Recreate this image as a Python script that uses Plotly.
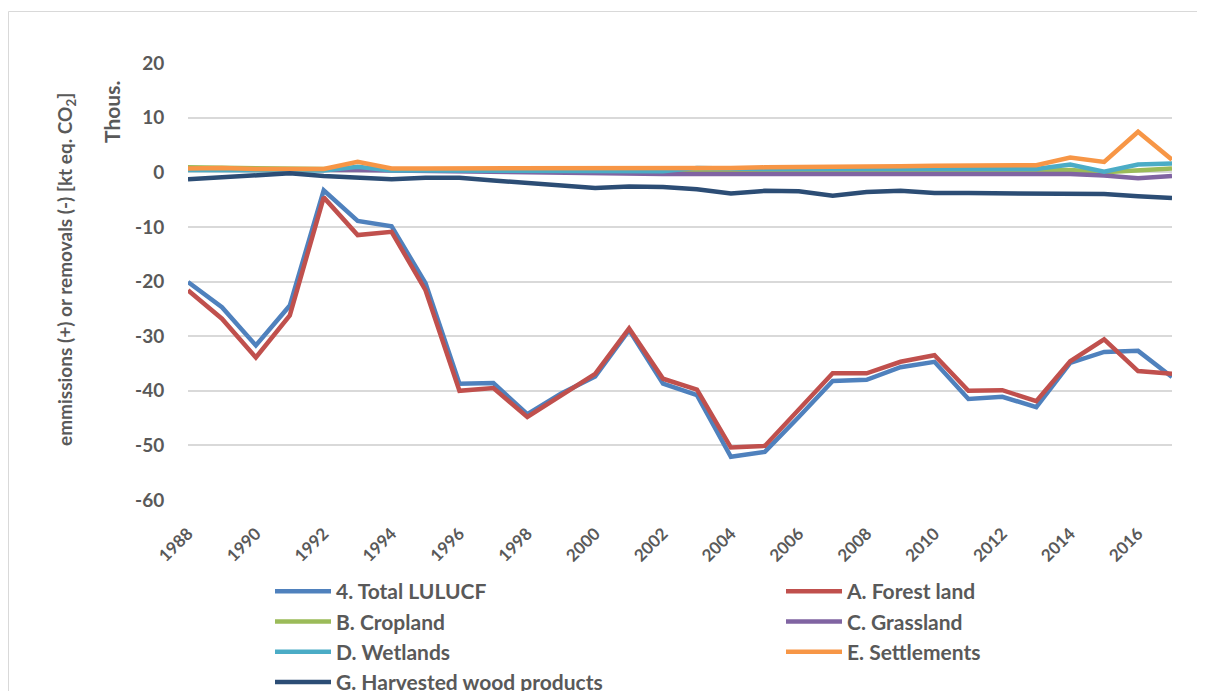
import plotly.graph_objects as go

years = list(range(1988, 2018))

total_lulucf = [-20.1, -24.7, -31.7, -24.4, -3.3, -8.9, -9.9, -20.3, -38.7, -38.6,
                -44.3, -40.5, -37.4, -28.9, -38.7, -40.8, -52.1, -51.2, -44.8, -38.2,
                -38.0, -35.7, -34.7, -41.5, -41.1, -43.0, -34.9, -32.9, -32.7, -37.5]
forest_land = [-21.6, -26.8, -33.9, -26.2, -4.6, -11.5, -10.9, -21.6, -40.0, -39.5,
               -44.8, -40.8, -36.9, -28.6, -37.8, -39.8, -50.4, -50.1, -43.5, -36.8,
               -36.8, -34.7, -33.5, -40.0, -39.9, -41.9, -34.6, -30.6, -36.4, -36.9]
cropland = [0.9, 0.8, 0.7, 0.6, 0.5, 0.4, 0.4, 0.3, 0.3, 0.3,
            0.3, 0.3, 0.3, 0.2, 0.2, 0.2, 0.2, 0.2, 0.2, 0.2,
            0.2, 0.2, 0.2, 0.2, 0.2, 0.2, 0.4, 0.0, 0.4, 0.7]
grassland = [0.6, 0.6, 0.6, 0.5, 0.5, 0.4, 0.3, 0.2, 0.1, 0.0,
             -0.1, -0.1, -0.2, -0.2, -0.3, -0.3, -0.3, -0.3, -0.3, -0.3,
             -0.3, -0.3, -0.3, -0.3, -0.3, -0.3, -0.3, -0.6, -1.1, -0.7]
wetlands = [0.4, 0.4, 0.3, 0.3, 0.3, 1.0, 0.3, 0.3, 0.3, 0.3,
            0.3, 0.3, 0.2, 0.2, 0.2, 0.8, 0.6, 0.6, 0.6, 0.6,
            0.6, 0.6, 0.6, 0.6, 0.6, 0.6, 1.4, 0.1, 1.4, 1.6]
settlements = [0.7, 0.8, 0.6, 0.6, 0.6, 1.9, 0.7, 0.7, 0.7, 0.6,
               0.7, 0.8, 0.8, 0.8, 0.7, 0.7, 0.8, 0.9, 0.9, 1.0,
               1.0, 1.1, 1.2, 1.2, 1.3, 1.3, 2.7, 1.9, 7.4, 2.3]
harvested_wood = [-1.3, -0.9, -0.4, -0.2, -0.7, -1.0, -1.3, -1.0, -1.0, -1.5,
                  -2.0, -2.6, -2.9, -2.6, -2.7, -3.1, -3.9, -3.4, -3.5, -4.3,
                  -3.6, -3.4, -3.8, -3.8, -3.8, -3.8, -3.9, -4.0, -4.4, -4.7]

series_names = ["4. Total LULUCF", "A. Forest land", "B. Cropland", "C. Grassland",
                "D. Wetlands", "E. Settlements", "G. Harvested wood products"]
series_values = [total_lulucf, forest_land, cropland, grassland,
                 wetlands, settlements, harvested_wood]
series_colors = ["#4f81bd", "#c0504d", "#9bbb59", "#8064a2",
                 "#4bacc6", "#f79646", "#2c4d75"]
# legend column for each series (Excel lays them out in two columns)
series_legend = ["legend", "legend2", "legend", "legend2",
                 "legend", "legend2", "legend"]

x_tick_vals = list(range(1988, 2017, 2))
y_tick_vals = list(range(-60, 21, 10))
y_tick_text = [str(v) for v in y_tick_vals]

FONT = "Lato"
GREY = "#595959"

fig = go.Figure()
for i, (name, vals, col, lg) in enumerate(zip(series_names, series_values,
                                               series_colors, series_legend)):
    fig.add_trace(go.Scatter(x=years, y=vals, name=name, mode="lines",
                             legend=lg, legendgroup=f"g{i}",
                             line=dict(color=col, width=4.5)))

OFF = 8  # page body margin of the html page
W, H = 1205 - OFF, 691 - OFF
L, R, T, B = 180, 33, 55, 191
pw, ph = W - L - R, H - T - B


def px_x(p):
    # p: x pixel in screenshot coordinates
    return (p - OFF - L) / pw


def px_y(p):
    return (H - B - (p - OFF)) / ph


legend_font = dict(family=FONT, size=21, color=GREY, weight="bold")
common_legend = dict(orientation="v", xanchor="left", yanchor="top",
                     font=legend_font, bgcolor="rgba(0,0,0,0)",
                     itemwidth=56, tracegroupgap=0)

fig.update_layout(
    width=W, height=H,
    margin=dict(l=L, r=R, t=T, b=B, autoexpand=False),
    paper_bgcolor="white", plot_bgcolor="white",
    font=dict(family=FONT, color=GREY),
    showlegend=True,
    legend=dict(x=px_x(270), y=px_y(571), **common_legend),
    legend2=dict(x=px_x(781), y=px_y(571), **common_legend),
    xaxis=dict(range=[1988, 2017], tickvals=x_tick_vals, tickangle=-45,
               showgrid=False, zeroline=False, showline=False,
               ticks="outside", ticklen=16, tickcolor="rgba(0,0,0,0)",
               tickfont=dict(family=FONT, size=17, color=GREY, weight="bold")),
    yaxis=dict(range=[-60, 20], tickvals=y_tick_vals, ticktext=y_tick_text,
               showgrid=True, gridcolor="#d9d9d9", gridwidth=1.5,
               zeroline=False, showline=False,
               ticks="outside", ticklen=19, tickcolor="rgba(0,0,0,0)",
               tickfont=dict(family=FONT, size=19, color=GREY, weight="bold")),
)

fig.add_annotation(text="emmissions (+) or removals (-) [kt eq. CO<sub>2</sub>]",
                   xref="paper", yref="paper", x=px_x(66), y=px_y(270),
                   xanchor="center", yanchor="middle",
                   textangle=-90, showarrow=False,
                   font=dict(family=FONT, size=19, color=GREY, weight="bold"))
fig.add_annotation(text="Thous.", xref="paper", yref="paper",
                   x=px_x(112), y=px_y(112), xanchor="center", yanchor="middle",
                   textangle=-90, showarrow=False,
                   font=dict(family=FONT, size=21, color=GREY, weight="bold"))

fig.add_shape(type="rect", xref="paper", yref="paper",
              x0=px_x(8.5), x1=px_x(1203), y0=px_y(760), y1=px_y(11.5),
              line=dict(color="#d9d9d9", width=1), fillcolor="rgba(0,0,0,0)",
              layer="below")

fig.write_html("out.html")
